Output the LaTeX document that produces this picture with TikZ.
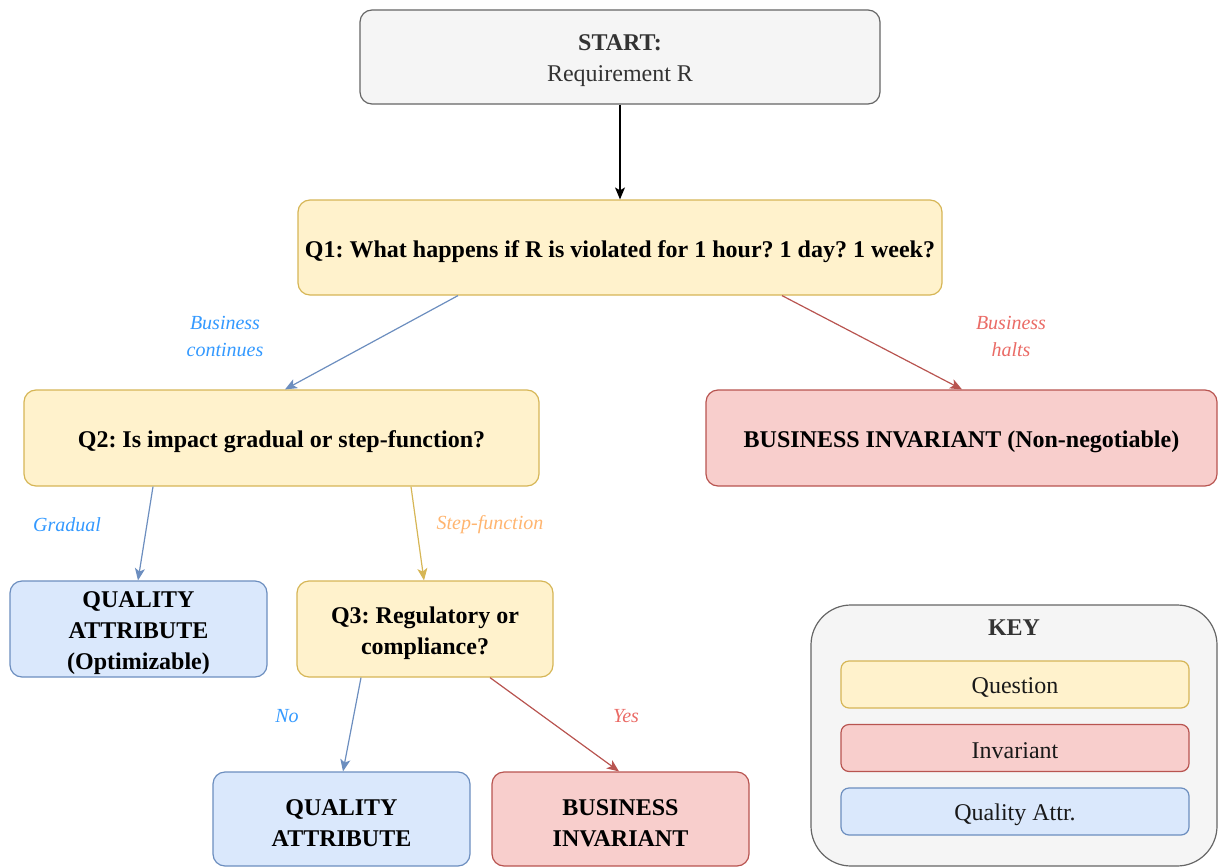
\documentclass[tikz,border=0pt]{standalone}
\usepackage{fontspec}
\setmainfont{Liberation Serif}
\usetikzlibrary{arrows.meta}
\frenchspacing
\definecolor{qfill}{HTML}{FFF2CC}\definecolor{qline}{HTML}{D6B656}
\definecolor{ifill}{HTML}{F8CECC}\definecolor{iline}{HTML}{B85450}
\definecolor{afill}{HTML}{DAE8FC}\definecolor{aline}{HTML}{6C8EBF}
\definecolor{gfill}{HTML}{F5F5F5}\definecolor{gline}{HTML}{666666}
\definecolor{gtext}{HTML}{333333}
\definecolor{lblue}{HTML}{3399FF}\definecolor{lred}{HTML}{EA6B66}\definecolor{lorange}{HTML}{FFB570}
\begin{document}
\begin{tikzpicture}[x=1pt,y=-1pt,
  box/.style={draw, rounded corners=12pt, line width=1.2pt, inner sep=0pt},
  txt/.style={align=center, inner sep=0pt, yshift=-4pt,
    font=\fontsize{24}{31}\selectfont\bfseries\frenchspacing},
  qbox/.style={box, fill=qfill, draw=qline},
  ibox/.style={box, fill=ifill, draw=iline},
  abox/.style={box, fill=afill, draw=aline},
  sbox/.style={box, fill=gfill, draw=gline},
  keyitem/.style={draw, rounded corners=8pt, line width=1.2pt, inner sep=0pt,
    minimum width=348pt, minimum height=47pt},
  ktxt/.style={inner sep=0pt, yshift=-3pt, font=\fontsize{24}{31}\selectfont, text=black!90},
  arr/.style={line width=1.2pt, -{Stealth[length=12pt,width=10pt,inset=3pt]}},
  lbl/.style={align=center, font=\fontsize{20}{27}\selectfont\itshape}
]
\path[use as bounding box] (0,0) rectangle (1218,867);

\node[sbox, minimum width=520pt, minimum height=94pt,
  label={[txt, text=gtext]center:START:\\\mdseries Requirement R}] (start) at (620,57) {};
\node[qbox, minimum width=644pt, minimum height=95pt,
  label={[txt]center:Q1: What happens if R is violated for 1 hour? 1 day? 1 week?}] (q1) at (620,247.5) {};
\node[qbox, minimum width=515pt, minimum height=96pt,
  label={[txt]center:Q2: Is impact gradual or step-function?}] (q2) at (281.5,438) {};
\node[ibox, minimum width=511pt, minimum height=96pt,
  label={[txt]center:BUSINESS INVARIANT (Non-negotiable)}] (bi1) at (961.5,438) {};
\node[abox, minimum width=257pt, minimum height=96pt,
  label={[txt]center:QUALITY\\ATTRIBUTE\\(Optimizable)}] (qa1) at (138.5,629) {};
\node[qbox, minimum width=256pt, minimum height=96pt,
  label={[txt]center:Q3: Regulatory or\\compliance?}] (q3) at (425,629) {};
\node[abox, minimum width=257pt, minimum height=94pt,
  label={[txt]center:QUALITY\\ATTRIBUTE}] (qa2) at (341.5,819) {};
\node[ibox, minimum width=257pt, minimum height=94pt,
  label={[txt]center:BUSINESS\\INVARIANT}] (bi2) at (620.5,819) {};

% key
\node[draw=gline, fill=gfill, rounded corners=40pt, line width=1.2pt,
  minimum width=406pt, minimum height=261pt, inner sep=0pt] (key) at (1014,735.5) {};
\node[font=\fontsize{24}{31}\selectfont\bfseries, text=gtext] (keyt) at (1014,628) {KEY};
\node[keyitem, fill=qfill, draw=qline, label={[ktxt]center:Question}] (kq) at (1015,684.5) {};
\node[keyitem, fill=ifill, draw=iline, label={[ktxt]center:Invariant}] (ki) at (1015,748) {};
\node[keyitem, fill=afill, draw=aline, label={[ktxt]center:Quality Attr.}] (ka) at (1015,811.5) {};

% connectors
\draw[arr, black] (start.south) -- (q1.north);
\draw[arr, aline] ([xshift=-162pt]q1.south) -- ([xshift=3.5pt]q2.north);
\draw[arr, iline] ([xshift=162pt]q1.south) -- ([xshift=0.5pt]bi1.north);
\draw[arr, aline] ([xshift=-128.5pt]q2.south) -- ([xshift=-0.5pt]qa1.north);
\draw[arr, qline] ([xshift=129.5pt]q2.south) -- ([xshift=-1pt]q3.north);
\draw[arr, aline] ([xshift=-64pt]q3.south) -- ([xshift=1.5pt]qa2.north);
\draw[arr, iline] ([xshift=65pt]q3.south) -- ([xshift=-1.5pt]bi2.north);

% labels
\node[lbl, text=lblue] (l1) at (225,336) {Business\\continues};
\node[lbl, text=lred] (l2) at (1011,336) {Business\\halts};
\node[lbl, text=lblue] (l3) at (67,525) {Gradual};
\node[lbl, text=lorange] (l4) at (490,525) {Step-function};
\node[lbl, text=lblue] (l5) at (287,716) {No};
\node[lbl, text=lred] (l6) at (626,716) {Yes};
\end{tikzpicture}
\end{document}
